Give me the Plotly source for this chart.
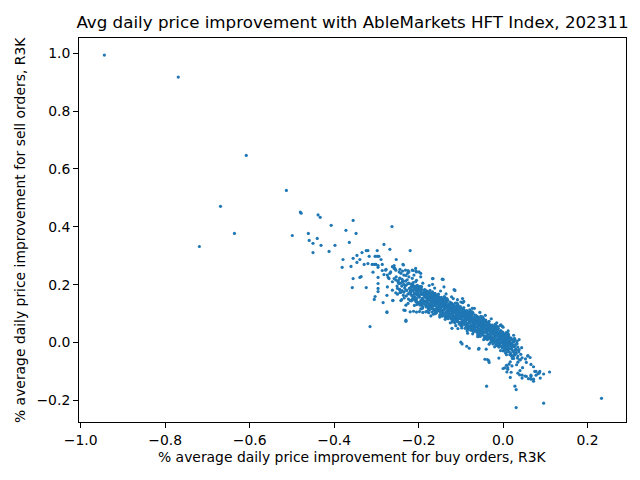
import plotly.graph_objects as go

# ---- data: (buy improvement %, sell improvement %) ----
outliers = [(-0.944, 0.994), (-0.769, 0.918), (-0.608, 0.647), (-0.513, 0.526), (-0.669, 0.471),
            (-0.636, 0.377), (-0.719, 0.332), (-0.499, 0.370), (-0.480, 0.451), (-0.478, 0.447),
            (-0.461, 0.377), (-0.459, 0.353), (-0.450, 0.343), (-0.450, 0.311), (-0.440, 0.360),
            (-0.438, 0.441), (-0.433, 0.433), (-0.431, 0.336), (-0.412, 0.315), (-0.407, 0.405),
            (-0.398, 0.336), (-0.372, 0.388), (-0.364, 0.346), (-0.355, 0.422), (-0.348, 0.377),
            (-0.346, 0.301), (-0.355, 0.291), (-0.379, 0.287)]

mid_scatter = [(-0.263, 0.401), (-0.381, 0.260), (-0.360, 0.263), (-0.334, 0.311), (-0.346, 0.277),
               (-0.339, 0.287), (-0.329, 0.270), (-0.324, 0.318), (-0.320, 0.318), (-0.317, 0.298),
               (-0.320, 0.273), (-0.310, 0.270), (-0.305, 0.270), (-0.301, 0.270), (-0.303, 0.298),
               (-0.298, 0.298), (-0.294, 0.298), (-0.298, 0.318), (-0.282, 0.339), (-0.268, 0.322),
               (-0.220, 0.318), (-0.355, 0.221), (-0.339, 0.225), (-0.336, 0.228), (-0.357, 0.190),
               (-0.324, 0.190), (-0.315, 0.055), (-0.308, 0.243), (-0.296, 0.260), (-0.296, 0.266),
               (-0.289, 0.287), (-0.286, 0.270), (-0.286, 0.249), (-0.296, 0.225), (-0.296, 0.204),
               (-0.296, 0.187), (-0.296, 0.176), (-0.303, 0.159), (-0.305, 0.149), (-0.284, 0.138),
               (-0.275, 0.104), (-0.261, 0.145), (-0.275, 0.163), (-0.282, 0.235), (-0.272, 0.225),
               (-0.268, 0.239), (-0.277, 0.253), (-0.258, 0.266), (-0.256, 0.256), (-0.253, 0.287),
               (-0.244, 0.253), (-0.237, 0.270), (-0.225, 0.249), (-0.213, 0.249), (-0.206, 0.246),
               (-0.244, 0.173), (-0.242, 0.145), (-0.232, 0.111), (-0.230, 0.073), (-0.258, 0.221),
               (-0.249, 0.211), (-0.239, 0.218), (-0.236, 0.268), (-0.114, 0.180), (-0.205, 0.244)]

upper_cloud = [(-0.278, 0.250), (-0.274, 0.233), (-0.266, 0.244), (-0.262, 0.262), (-0.258, 0.256),
               (-0.254, 0.250), (-0.246, 0.244), (-0.242, 0.239), (-0.238, 0.247), (-0.235, 0.233),
               (-0.231, 0.250), (-0.226, 0.239), (-0.223, 0.244), (-0.270, 0.221), (-0.262, 0.210),
               (-0.254, 0.216), (-0.246, 0.204), (-0.238, 0.210), (-0.230, 0.198), (-0.223, 0.204),
               (-0.215, 0.192), (-0.207, 0.210), (-0.203, 0.198), (-0.274, 0.192), (-0.262, 0.181),
               (-0.250, 0.187), (-0.242, 0.175), (-0.230, 0.181), (-0.219, 0.175), (-0.215, 0.250),
               (-0.207, 0.256), (-0.199, 0.244), (-0.195, 0.227), (-0.223, 0.227), (-0.211, 0.233),
               (-0.167, 0.221), (-0.144, 0.219), (-0.116, 0.183), (-0.096, 0.152), (-0.100, 0.140),
               (-0.275, 0.106), (-0.261, 0.146), (-0.230, 0.077), (-0.235, 0.112), (-0.230, 0.129),
               (-0.220, 0.106), (-0.212, 0.108), (-0.205, 0.105), (-0.198, 0.107), (-0.190, 0.104),
               (-0.183, 0.106), (-0.176, 0.103), (-0.168, 0.105), (-0.160, 0.100)]

core_band = [
    (-0.254, 0.172), (-0.251, 0.195), (-0.248, 0.214), (-0.246, 0.184), (-0.253, 0.227), (-0.247, 0.205),
    (-0.250, 0.167), (-0.245, 0.222),
    (-0.243, 0.173), (-0.240, 0.195), (-0.237, 0.213), (-0.245, 0.184), (-0.236, 0.163), (-0.242, 0.205),
    (-0.239, 0.179), (-0.235, 0.201), (-0.244, 0.223),
    (-0.235, 0.174), (-0.232, 0.196), (-0.229, 0.161), (-0.226, 0.203), (-0.233, 0.188), (-0.228, 0.180),
    (-0.225, 0.168), (-0.231, 0.212), (-0.227, 0.217), (-0.234, 0.154),
    (-0.224, 0.150), (-0.221, 0.173), (-0.218, 0.192), (-0.216, 0.162), (-0.223, 0.205), (-0.217, 0.183),
    (-0.220, 0.145), (-0.215, 0.200), (-0.222, 0.187), (-0.219, 0.167), (-0.214, 0.178),
    (-0.213, 0.150), (-0.210, 0.172), (-0.207, 0.190), (-0.215, 0.161), (-0.206, 0.140), (-0.212, 0.182),
    (-0.209, 0.156), (-0.205, 0.178), (-0.214, 0.200), (-0.208, 0.167), (-0.211, 0.195), (-0.206, 0.146),
    (-0.205, 0.151), (-0.202, 0.173), (-0.199, 0.138), (-0.196, 0.180), (-0.203, 0.165), (-0.198, 0.157),
    (-0.195, 0.145), (-0.201, 0.189), (-0.197, 0.194), (-0.204, 0.131), (-0.200, 0.182), (-0.195, 0.167),
    (-0.194, 0.129), (-0.191, 0.152), (-0.188, 0.171), (-0.186, 0.141), (-0.193, 0.184), (-0.187, 0.162),
    (-0.190, 0.124), (-0.185, 0.179), (-0.192, 0.166), (-0.189, 0.146), (-0.184, 0.157), (-0.195, 0.175),
    (-0.188, 0.135),
    (-0.183, 0.131), (-0.180, 0.153), (-0.177, 0.171), (-0.185, 0.142), (-0.176, 0.121), (-0.182, 0.163),
    (-0.179, 0.137), (-0.175, 0.159), (-0.184, 0.181), (-0.178, 0.148), (-0.181, 0.176), (-0.176, 0.127),
    (-0.183, 0.167),
    (-0.175, 0.132), (-0.172, 0.154), (-0.169, 0.119), (-0.166, 0.161), (-0.173, 0.146), (-0.168, 0.138),
    (-0.165, 0.126), (-0.171, 0.170), (-0.167, 0.175), (-0.174, 0.112), (-0.170, 0.163), (-0.165, 0.148),
    (-0.172, 0.125),
    (-0.164, 0.110), (-0.161, 0.133), (-0.158, 0.152), (-0.156, 0.122), (-0.163, 0.165), (-0.157, 0.143),
    (-0.160, 0.105), (-0.155, 0.160), (-0.162, 0.147), (-0.159, 0.127), (-0.154, 0.138), (-0.165, 0.156),
    (-0.158, 0.116), (-0.161, 0.170),
    (-0.153, 0.111), (-0.150, 0.133), (-0.147, 0.151), (-0.155, 0.122), (-0.146, 0.101), (-0.152, 0.143),
    (-0.149, 0.117), (-0.145, 0.139), (-0.154, 0.161), (-0.148, 0.128), (-0.151, 0.156), (-0.146, 0.107),
    (-0.153, 0.147), (-0.150, 0.095),
    (-0.145, 0.111), (-0.142, 0.133), (-0.139, 0.098), (-0.136, 0.140), (-0.143, 0.125), (-0.138, 0.117),
    (-0.135, 0.105), (-0.141, 0.149), (-0.137, 0.154), (-0.144, 0.091), (-0.140, 0.142), (-0.135, 0.127),
    (-0.142, 0.104), (-0.139, 0.159),
    (-0.134, 0.087), (-0.131, 0.110), (-0.128, 0.129), (-0.126, 0.099), (-0.133, 0.142), (-0.127, 0.120),
    (-0.130, 0.082), (-0.125, 0.137), (-0.132, 0.124), (-0.129, 0.104), (-0.124, 0.115), (-0.135, 0.133),
    (-0.128, 0.093), (-0.131, 0.147),
    (-0.123, 0.087), (-0.120, 0.109), (-0.117, 0.127), (-0.125, 0.098), (-0.116, 0.077), (-0.122, 0.119),
    (-0.119, 0.093), (-0.115, 0.115), (-0.124, 0.137), (-0.118, 0.104), (-0.121, 0.132), (-0.116, 0.083),
    (-0.123, 0.123), (-0.120, 0.071),
    (-0.115, 0.088), (-0.112, 0.110), (-0.109, 0.075), (-0.106, 0.117), (-0.113, 0.102), (-0.108, 0.094),
    (-0.105, 0.082), (-0.111, 0.126), (-0.107, 0.131), (-0.114, 0.068), (-0.110, 0.119), (-0.105, 0.104),
    (-0.112, 0.081), (-0.109, 0.136),
    (-0.104, 0.064), (-0.101, 0.087), (-0.098, 0.106), (-0.096, 0.076), (-0.103, 0.119), (-0.097, 0.097),
    (-0.100, 0.059), (-0.095, 0.114), (-0.102, 0.101), (-0.099, 0.081), (-0.094, 0.092), (-0.105, 0.110),
    (-0.098, 0.070), (-0.101, 0.124),
    (-0.093, 0.065), (-0.090, 0.087), (-0.087, 0.105), (-0.095, 0.076), (-0.086, 0.055), (-0.092, 0.097),
    (-0.089, 0.071), (-0.085, 0.093), (-0.094, 0.115), (-0.088, 0.082), (-0.091, 0.110), (-0.086, 0.061),
    (-0.093, 0.101), (-0.090, 0.049),
    (-0.085, 0.065), (-0.082, 0.087), (-0.079, 0.052), (-0.076, 0.094), (-0.083, 0.079), (-0.078, 0.071),
    (-0.075, 0.059), (-0.081, 0.103), (-0.077, 0.108), (-0.084, 0.045), (-0.080, 0.096), (-0.075, 0.081),
    (-0.082, 0.058), (-0.079, 0.113),
    (-0.074, 0.042), (-0.071, 0.065), (-0.068, 0.084), (-0.066, 0.054), (-0.073, 0.097), (-0.067, 0.075),
    (-0.070, 0.037), (-0.065, 0.092), (-0.072, 0.079), (-0.069, 0.059), (-0.064, 0.070), (-0.075, 0.088),
    (-0.068, 0.048), (-0.071, 0.102),
    (-0.063, 0.042), (-0.060, 0.064), (-0.057, 0.082), (-0.065, 0.053), (-0.056, 0.032), (-0.062, 0.074),
    (-0.059, 0.048), (-0.055, 0.070), (-0.064, 0.092), (-0.058, 0.059), (-0.061, 0.087), (-0.056, 0.038),
    (-0.063, 0.078), (-0.060, 0.026),
    (-0.055, 0.041), (-0.052, 0.063), (-0.049, 0.028), (-0.046, 0.070), (-0.053, 0.055), (-0.048, 0.047),
    (-0.045, 0.035), (-0.051, 0.079), (-0.047, 0.084), (-0.054, 0.021), (-0.050, 0.072), (-0.045, 0.057),
    (-0.052, 0.034), (-0.049, 0.089),
    (-0.044, 0.017), (-0.041, 0.040), (-0.038, 0.059), (-0.036, 0.029), (-0.043, 0.072), (-0.037, 0.050),
    (-0.040, 0.012), (-0.035, 0.067), (-0.042, 0.054), (-0.039, 0.034), (-0.034, 0.045), (-0.045, 0.063),
    (-0.038, 0.023), (-0.041, 0.077),
    (-0.033, 0.016), (-0.030, 0.038), (-0.027, 0.056), (-0.035, 0.027), (-0.026, 0.006), (-0.032, 0.048),
    (-0.029, 0.022), (-0.025, 0.044), (-0.034, 0.066), (-0.028, 0.033), (-0.031, 0.061), (-0.026, 0.012),
    (-0.033, 0.052), (-0.030, 0.000),
    (-0.025, 0.015), (-0.022, 0.037), (-0.019, 0.002), (-0.016, 0.044), (-0.023, 0.029), (-0.018, 0.021),
    (-0.015, 0.009), (-0.021, 0.053), (-0.017, 0.058), (-0.024, -0.005), (-0.020, 0.046), (-0.015, 0.031),
    (-0.022, 0.008), (-0.019, 0.063),
    (-0.014, -0.011), (-0.011, 0.012), (-0.008, 0.031), (-0.006, 0.001), (-0.013, 0.044), (-0.007, 0.022),
    (-0.010, -0.016), (-0.005, 0.039), (-0.012, 0.026), (-0.009, 0.006), (-0.004, 0.017), (-0.015, 0.035),
    (-0.008, -0.005), (-0.011, 0.049),
    (-0.003, -0.013), (0.000, 0.009), (0.003, 0.027), (-0.005, -0.002), (0.004, -0.023), (-0.002, 0.019),
    (0.001, -0.007), (0.005, 0.015), (-0.004, 0.037), (0.002, 0.004), (-0.001, 0.032), (0.004, -0.017),
    (-0.003, 0.023), (0.000, -0.029),
    (0.005, -0.016), (0.008, 0.006), (0.011, -0.029), (0.014, 0.013), (0.007, -0.002), (0.012, -0.010),
    (0.015, -0.022), (0.009, 0.022), (0.013, 0.027), (0.006, -0.036), (0.010, 0.015), (0.015, 0.000),
    (0.008, -0.023), (0.011, 0.032),
    (0.016, -0.042), (0.019, -0.019), (0.022, 0.000), (0.024, -0.030), (0.017, 0.013), (0.023, -0.009),
    (0.020, -0.047), (0.025, 0.008), (0.018, -0.005), (0.021, -0.025), (0.026, -0.014), (0.015, 0.004),
    (0.027, -0.044), (0.030, -0.022), (0.033, -0.004), (0.025, -0.033), (0.034, -0.054), (0.028, -0.012),
    (0.031, -0.038), (0.035, -0.016), (0.026, 0.006), (0.032, -0.027),
    (0.035, -0.047), (0.038, -0.025), (0.041, -0.060), (0.044, -0.018), (0.037, -0.033), (0.042, -0.041),
    (0.045, -0.053)]

core_fill = [
    (-0.217, 0.144), (-0.212, 0.157), (-0.219, 0.180), (-0.214, 0.195), (-0.211, 0.167), (-0.218, 0.202),
    (-0.215, 0.150), (-0.210, 0.186), (-0.220, 0.172), (-0.213, 0.207),
    (-0.202, 0.135), (-0.208, 0.156), (-0.205, 0.181), (-0.201, 0.190), (-0.209, 0.146), (-0.204, 0.169),
    (-0.206, 0.195), (-0.200, 0.162), (-0.207, 0.186), (-0.203, 0.140),
    (-0.197, 0.130), (-0.192, 0.143), (-0.199, 0.166), (-0.194, 0.181), (-0.191, 0.153), (-0.198, 0.188),
    (-0.195, 0.136), (-0.190, 0.172), (-0.200, 0.158), (-0.193, 0.193),
    (-0.182, 0.123), (-0.188, 0.144), (-0.185, 0.169), (-0.181, 0.178), (-0.189, 0.134), (-0.184, 0.157),
    (-0.186, 0.183), (-0.180, 0.150), (-0.187, 0.174), (-0.183, 0.128),
    (-0.177, 0.117), (-0.172, 0.130), (-0.179, 0.153), (-0.174, 0.168), (-0.171, 0.140), (-0.178, 0.175),
    (-0.175, 0.123), (-0.170, 0.159), (-0.180, 0.145), (-0.173, 0.180),
    (-0.162, 0.110), (-0.168, 0.131), (-0.165, 0.156), (-0.161, 0.165), (-0.169, 0.121), (-0.164, 0.144),
    (-0.166, 0.170), (-0.160, 0.137), (-0.167, 0.161), (-0.163, 0.115),
    (-0.157, 0.104), (-0.152, 0.117), (-0.159, 0.140), (-0.154, 0.155), (-0.151, 0.127), (-0.158, 0.162),
    (-0.155, 0.110), (-0.150, 0.146), (-0.160, 0.132), (-0.153, 0.167),
    (-0.142, 0.096), (-0.148, 0.117), (-0.145, 0.142), (-0.141, 0.151), (-0.149, 0.107), (-0.144, 0.130),
    (-0.146, 0.156), (-0.140, 0.123), (-0.147, 0.147), (-0.143, 0.101),
    (-0.137, 0.089), (-0.132, 0.102), (-0.139, 0.125), (-0.134, 0.140), (-0.131, 0.112), (-0.138, 0.147),
    (-0.135, 0.095), (-0.130, 0.131), (-0.140, 0.117), (-0.133, 0.152),
    (-0.122, 0.080), (-0.128, 0.101), (-0.125, 0.126), (-0.121, 0.135), (-0.129, 0.091), (-0.124, 0.114),
    (-0.126, 0.140), (-0.120, 0.107), (-0.127, 0.131), (-0.123, 0.085),
    (-0.117, 0.073), (-0.112, 0.086), (-0.119, 0.109), (-0.114, 0.124), (-0.111, 0.096), (-0.118, 0.131),
    (-0.115, 0.079), (-0.110, 0.115), (-0.120, 0.101), (-0.113, 0.136),
    (-0.102, 0.065), (-0.108, 0.086), (-0.105, 0.111), (-0.101, 0.120), (-0.109, 0.076), (-0.104, 0.099),
    (-0.106, 0.125), (-0.100, 0.092), (-0.107, 0.116), (-0.103, 0.070),
    (-0.097, 0.058), (-0.092, 0.071), (-0.099, 0.094), (-0.094, 0.109), (-0.091, 0.081), (-0.098, 0.116),
    (-0.095, 0.064), (-0.090, 0.100), (-0.100, 0.086), (-0.093, 0.121),
    (-0.082, 0.050), (-0.088, 0.071), (-0.085, 0.096), (-0.081, 0.105), (-0.089, 0.061), (-0.084, 0.084),
    (-0.086, 0.110), (-0.080, 0.077), (-0.087, 0.101), (-0.083, 0.055),
    (-0.077, 0.043), (-0.072, 0.056), (-0.079, 0.079), (-0.074, 0.094), (-0.071, 0.066), (-0.078, 0.101),
    (-0.075, 0.049), (-0.070, 0.085), (-0.080, 0.071), (-0.073, 0.106),
    (-0.062, 0.035), (-0.068, 0.056), (-0.065, 0.081), (-0.061, 0.090), (-0.069, 0.046), (-0.064, 0.069),
    (-0.066, 0.095), (-0.060, 0.062), (-0.067, 0.086), (-0.063, 0.040),
    (-0.057, 0.027), (-0.052, 0.040), (-0.059, 0.063), (-0.054, 0.078), (-0.051, 0.050), (-0.058, 0.085),
    (-0.055, 0.033), (-0.050, 0.069), (-0.060, 0.055), (-0.053, 0.090),
    (-0.042, 0.018), (-0.048, 0.039), (-0.045, 0.064), (-0.041, 0.073), (-0.049, 0.029), (-0.044, 0.052),
    (-0.046, 0.078), (-0.040, 0.045), (-0.047, 0.069), (-0.043, 0.023),
    (-0.037, 0.010), (-0.032, 0.023), (-0.039, 0.046), (-0.034, 0.061), (-0.031, 0.033), (-0.038, 0.068),
    (-0.035, 0.016), (-0.030, 0.052), (-0.040, 0.038), (-0.033, 0.073),
    (-0.022, 0.000), (-0.028, 0.021), (-0.025, 0.046), (-0.021, 0.055), (-0.029, 0.011), (-0.024, 0.034),
    (-0.026, 0.060), (-0.020, 0.027), (-0.027, 0.051), (-0.023, 0.005),
    (-0.017, -0.008), (-0.012, 0.005), (-0.019, 0.028), (-0.014, 0.043), (-0.011, 0.015), (-0.018, 0.050),
    (-0.015, -0.002), (-0.010, 0.034), (-0.020, 0.020), (-0.013, 0.055),
    (-0.002, -0.019), (-0.008, 0.002), (-0.005, 0.027), (-0.001, 0.036), (-0.009, -0.008), (-0.004, 0.015),
    (-0.006, 0.041), (0.000, 0.008), (-0.007, 0.032), (-0.003, -0.014),
    (0.003, -0.029), (0.008, -0.016), (0.001, 0.007), (0.006, 0.022), (0.009, -0.006), (0.002, 0.029),
    (0.005, -0.023), (0.010, 0.013), (0.000, -0.001), (0.007, 0.034),
    (0.018, -0.040), (0.012, -0.019), (0.015, 0.006), (0.019, 0.015), (0.011, -0.029), (0.016, -0.006),
    (0.014, 0.020), (0.020, -0.013), (0.013, 0.011), (0.017, -0.035),
    (0.023, -0.049), (0.028, -0.036), (0.021, -0.013), (0.026, 0.002), (0.029, -0.026), (0.022, 0.009),
    (0.025, -0.043), (0.030, -0.007), (0.020, -0.021), (0.027, 0.014)]

core_dense = [
    (-0.1765, 0.127), (-0.1795, 0.141), (-0.1755, 0.153), (-0.1785, 0.165), (-0.1745, 0.134),
    (-0.1805, 0.159), (-0.1775, 0.173), (-0.1755, 0.147),
    (-0.1685, 0.125), (-0.1655, 0.139), (-0.1705, 0.150), (-0.1665, 0.163), (-0.1695, 0.131),
    (-0.1645, 0.156), (-0.1675, 0.117), (-0.1685, 0.144),
    (-0.1565, 0.114), (-0.1595, 0.128), (-0.1555, 0.140), (-0.1585, 0.152), (-0.1545, 0.121),
    (-0.1605, 0.146), (-0.1575, 0.160), (-0.1555, 0.134),
    (-0.1485, 0.111), (-0.1455, 0.125), (-0.1505, 0.136), (-0.1465, 0.149), (-0.1495, 0.117),
    (-0.1445, 0.142), (-0.1475, 0.103), (-0.1485, 0.130),
    (-0.1365, 0.099), (-0.1395, 0.113), (-0.1355, 0.125), (-0.1385, 0.137), (-0.1345, 0.106),
    (-0.1405, 0.131), (-0.1375, 0.145), (-0.1355, 0.119),
    (-0.1285, 0.095), (-0.1255, 0.109), (-0.1305, 0.120), (-0.1265, 0.133), (-0.1295, 0.101),
    (-0.1245, 0.126), (-0.1275, 0.087), (-0.1285, 0.114),
    (-0.1165, 0.083), (-0.1195, 0.097), (-0.1155, 0.109), (-0.1185, 0.121), (-0.1145, 0.090),
    (-0.1205, 0.115), (-0.1175, 0.129), (-0.1155, 0.103),
    (-0.1085, 0.080), (-0.1055, 0.094), (-0.1105, 0.105), (-0.1065, 0.118), (-0.1095, 0.086),
    (-0.1045, 0.111), (-0.1075, 0.072), (-0.1085, 0.099),
    (-0.0965, 0.068), (-0.0995, 0.082), (-0.0955, 0.094), (-0.0985, 0.106), (-0.0945, 0.075),
    (-0.1005, 0.100), (-0.0975, 0.114), (-0.0955, 0.088),
    (-0.0885, 0.065), (-0.0855, 0.079), (-0.0905, 0.090), (-0.0865, 0.103), (-0.0895, 0.071),
    (-0.0845, 0.096), (-0.0875, 0.057), (-0.0885, 0.084),
    (-0.0765, 0.053), (-0.0795, 0.067), (-0.0755, 0.079), (-0.0785, 0.091), (-0.0745, 0.060),
    (-0.0805, 0.085), (-0.0775, 0.099), (-0.0755, 0.073),
    (-0.0685, 0.050), (-0.0655, 0.064), (-0.0705, 0.075), (-0.0665, 0.088), (-0.0695, 0.056),
    (-0.0645, 0.081), (-0.0675, 0.042), (-0.0685, 0.069),
    (-0.0565, 0.038), (-0.0595, 0.052), (-0.0555, 0.064), (-0.0585, 0.076), (-0.0545, 0.045),
    (-0.0605, 0.070), (-0.0575, 0.084), (-0.0555, 0.058),
    (-0.0485, 0.033), (-0.0455, 0.047), (-0.0505, 0.058), (-0.0465, 0.071), (-0.0495, 0.039),
    (-0.0445, 0.064), (-0.0475, 0.025), (-0.0485, 0.052),
    (-0.0365, 0.021), (-0.0395, 0.035), (-0.0355, 0.047), (-0.0385, 0.059), (-0.0345, 0.028),
    (-0.0405, 0.053), (-0.0375, 0.067), (-0.0355, 0.041),
    (-0.0285, 0.016), (-0.0255, 0.030), (-0.0305, 0.041), (-0.0265, 0.054), (-0.0295, 0.022),
    (-0.0245, 0.047), (-0.0275, 0.008), (-0.0285, 0.035),
    (-0.0165, 0.003), (-0.0195, 0.017), (-0.0155, 0.029), (-0.0185, 0.041), (-0.0145, 0.010),
    (-0.0205, 0.035), (-0.0175, 0.049), (-0.0155, 0.023),
    (-0.0085, -0.003), (-0.0055, 0.011), (-0.0105, 0.022), (-0.0065, 0.035), (-0.0095, 0.003),
    (-0.0045, 0.028), (-0.0075, -0.011), (-0.0085, 0.016),
    (0.0035, -0.017), (0.0005, -0.003), (0.0045, 0.009), (0.0015, 0.021), (0.0055, -0.010),
    (-0.0005, 0.015), (0.0025, 0.029), (0.0045, 0.003),
    (0.0115, -0.024), (0.0145, -0.010), (0.0095, 0.001), (0.0135, 0.014), (0.0105, -0.018),
    (0.0155, 0.007), (0.0125, -0.032), (0.0115, -0.005)]

halo = [(-0.230, 0.232), (-0.215, 0.222), (-0.205, 0.215), (-0.190, 0.205), (-0.175, 0.197),
        (-0.162, 0.188), (-0.148, 0.178), (-0.135, 0.168), (-0.122, 0.158), (-0.108, 0.148),
        (-0.095, 0.138), (-0.082, 0.128), (-0.068, 0.118), (-0.055, 0.104), (-0.042, 0.094),
        (-0.028, 0.082), (-0.015, 0.068), (-0.002, 0.056), (0.012, 0.040), (0.025, 0.025),
        (0.038, 0.010),
        (-0.240, 0.148), (-0.225, 0.135), (-0.210, 0.128), (-0.195, 0.116), (-0.180, 0.108),
        (-0.165, 0.098), (-0.150, 0.088), (-0.137, 0.080), (-0.125, 0.068), (-0.112, 0.058),
        (-0.098, 0.050), (-0.085, 0.040), (-0.072, 0.030), (-0.060, 0.020), (-0.046, 0.010),
        (-0.033, -0.006), (-0.020, -0.015), (-0.006, -0.028), (0.008, -0.042), (0.022, -0.055),
        (0.035, -0.068),
        (-0.195, 0.239), (-0.166, 0.221), (-0.142, 0.218), (-0.167, 0.201), (-0.140, 0.192),
        (-0.118, 0.152), (-0.096, 0.138), (-0.093, 0.142), (-0.073, 0.118), (-0.007, 0.059),
        (-0.034, 0.062), (0.028, 0.010), (0.009, 0.024), (-0.171, 0.092), (-0.121, 0.049),
        (-0.100, 0.001), (-0.086, -0.013), (-0.057, -0.020), (-0.043, -0.058), (-0.034, -0.063),
        (-0.191, 0.118), (-0.146, 0.131), (-0.107, 0.048), (-0.084, 0.032), (-0.097, -0.005),
        (-0.080, -0.020), (-0.040, -0.023), (-0.058, -0.023), (-0.037, -0.059), (-0.033, -0.069),
        (-0.005, 0.061), (0.007, 0.026), (0.004, 0.022), (-0.010, -0.054), (0.033, 0.004),
        (0.000, 0.053)]

right_tail = [(0.000, -0.090), (0.011, -0.087), (0.017, -0.121), (0.040, -0.097), (0.046, -0.087),
              (0.055, -0.069), (0.059, -0.045), (0.075, -0.100), (0.083, -0.108), (0.066, -0.118),
              (0.045, -0.113), (0.064, -0.052), (0.053, -0.057), (0.072, -0.084), (0.086, -0.105),
              (0.096, -0.109), (0.110, -0.102), (0.072, -0.134), (0.072, -0.127), (0.088, -0.123),
              (0.060, -0.125), (0.052, -0.116), (0.039, -0.112), (0.045, -0.123), (0.031, -0.163),
              (0.031, -0.225), (0.096, -0.210), (0.233, -0.193), (-0.039, -0.151), (0.008, -0.079),
              (0.011, -0.093), (0.019, -0.103), (0.021, -0.081), (0.032, -0.077), (0.039, -0.060),
              (0.025, -0.055), (0.004, -0.088), (0.009, -0.102), (0.014, -0.075), (0.017, -0.067),
              (0.035, -0.106), (0.058, -0.047), (0.066, -0.076), (0.078, -0.100), (0.087, -0.100),
              (0.066, -0.113), (0.078, -0.113), (0.055, -0.117), (0.066, -0.127), (0.028, -0.151)]

groups = [outliers, mid_scatter, upper_cloud, core_band, core_fill, core_dense, halo, right_tail]
buy = [p[0] for g in groups for p in g]
sell = [p[1] for g in groups for p in g]

x_ticks = [-1.0, -0.8, -0.6, -0.4, -0.2, 0.0, 0.2]
y_ticks = [-0.2, 0.0, 0.2, 0.4, 0.6, 0.8, 1.0]

title_text = "Avg daily price improvement with AbleMarkets HFT Index, 202311"
x_title = "% average daily price improvement for buy orders, R3K"
y_title = "% average daily price improvement for sell orders, R3K"

FONT = "DejaVu Sans"
FS = 13.9
L, R, T, B = 79, 14, 38, 58
W, H = 640, 480
PH = H - T - B
PW = W - L - R

fig = go.Figure(go.Scatter(
    x=buy, y=sell, mode="markers",
    marker=dict(size=3.2, color="#1f77b4", line=dict(width=0)),
    hoverinfo="skip", showlegend=False))

axis_common = dict(showline=True, linecolor="black", linewidth=1, mirror=True,
                   ticks="outside", ticklen=5, tickwidth=1, tickcolor="black",
                   showgrid=False, zeroline=False, tickformat=".1f",
                   tickfont=dict(family=FONT, size=FS, color="black"))

fig.update_layout(
    width=W, height=H, margin=dict(l=L, r=R, t=T, b=B, autoexpand=False),
    paper_bgcolor="white", plot_bgcolor="white",
    font=dict(family=FONT, color="black"),
    title=dict(text=title_text, font=dict(family=FONT, size=16.7, color="black"),
               x=0.5, xref="paper", xanchor="center",
               y=1 - 22 / H, yref="container", yanchor="middle"),
    xaxis=dict(range=[-1.004, 0.291], tickvals=x_ticks, **axis_common),
    yaxis=dict(range=[-0.275, 1.053], tickvals=y_ticks, **axis_common),
    annotations=[
        dict(text=x_title, xref="paper", yref="paper", x=0.5, y=-(457 - (H - B)) / PH,
             xanchor="center", yanchor="middle", showarrow=False,
             font=dict(family=FONT, size=FS, color="black")),
        dict(text=y_title, xref="paper", yref="paper", x=-(L - 20) / PW, y=0.5,
             xanchor="center", yanchor="middle", textangle=-90, showarrow=False,
             font=dict(family=FONT, size=FS, color="black")),
    ],
)

fig.write_html("out.html")
